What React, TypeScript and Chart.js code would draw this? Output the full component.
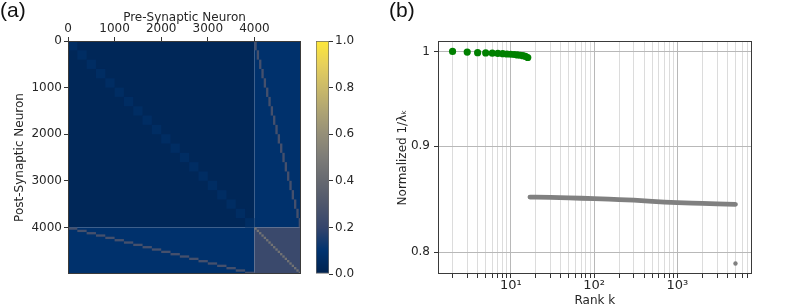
import React, { useEffect, useRef } from "react";
import { Chart, registerables } from "chart.js";
Chart.register(...registerables);

// ---------------- Panel (a): connectivity matrix ----------------
const N_EXC = 4000;
const N_INH = 1000;
const N_GROUPS = 20;
const EXC_GROUP = 200;
const INH_GROUP = 50;
const matrixTicks = [0, 1000, 2000, 3000, 4000];
// normalised weight levels of the matrix regions
const EE_BACKGROUND = 0.03;
const EE_GROUP = 0.065;
const EI_BACKGROUND = 0.09;
const EI_PATH = 0.26;
const II_BACKGROUND = 0.22;
const II_DIAGONAL = 0.45;

const colorbarTicks = [0, 0.2, 0.4, 0.6, 0.8, 1.0];
// cividis colormap samples at 0, 0.1, ..., 1.0
const cividisStops = [
  [0, 34, 78], [0, 51, 111], [53, 69, 108], [79, 87, 108], [102, 105, 112],
  [125, 124, 120], [149, 143, 120], [175, 164, 115], [203, 186, 105], [231, 208, 91], [254, 232, 56],
];

// ---------------- Panel (b): normalised inverse eigenvalues ----------------
const greenRanks = [2, 3, 4, 5, 6, 7, 8, 9, 10, 11, 12, 13, 14, 15, 16];
const greenValues = [1.0, 0.9993, 0.9986, 0.9984, 0.9981, 0.9978, 0.9975, 0.9972, 0.9969, 0.9966, 0.9962, 0.9958, 0.9953, 0.9946, 0.9933];
const grayRanks = [17, 20, 30, 50, 70, 100, 150, 200, 300, 500, 700, 1000, 1500, 2000, 3000, 4999];
const grayValues = [0.8505, 0.8504, 0.8502, 0.8498, 0.8494, 0.849, 0.8486, 0.8482, 0.8476, 0.8465, 0.8458, 0.8452, 0.8448, 0.8445, 0.8441, 0.8437];
const outlierRanks = [5000];
const outlierValues = [0.79];
const rankTicks = [2, 3, 4, 5, 6, 7, 8, 9, 10, 20, 30, 40, 50, 60, 70, 80, 90, 100, 200, 300, 400, 500, 600, 700, 800, 900, 1000, 2000, 3000, 4000, 5000, 6000, 7000];
const rankMajor = [10, 100, 1000];
const rankLabels: Record<number, string> = { 10: "10\u00B9", 100: "10\u00B2", 1000: "10\u00B3" };
const valueTicks = [0.8, 0.9, 1];

const FONT = { family: "'DejaVu Sans'", size: 12 };
Chart.defaults.font.family = "'DejaVu Sans'";
Chart.defaults.color = "#262626";

function cividis(v: number): string {
  const t = Math.max(0, Math.min(1, v)) * 10;
  const i = Math.min(9, Math.floor(t));
  const f = t - i;
  const a = cividisStops[i], b = cividisStops[i + 1];
  const c = a.map((x, k) => Math.round(x + (b[k] - x) * f));
  return `rgb(${c[0]},${c[1]},${c[2]})`;
}

type Cell = { x0: number; x1: number; y0: number; y1: number; v: number };
function buildCells(): Cell[] {
  const total = N_EXC + N_INH;
  const cells: Cell[] = [];
  cells.push({ x0: 0, x1: N_EXC, y0: 0, y1: N_EXC, v: EE_BACKGROUND });
  cells.push({ x0: N_EXC, x1: total, y0: 0, y1: N_EXC, v: EI_BACKGROUND });
  cells.push({ x0: 0, x1: N_EXC, y0: N_EXC, y1: total, v: EI_BACKGROUND });
  cells.push({ x0: N_EXC, x1: total, y0: N_EXC, y1: total, v: II_BACKGROUND });
  for (let g = 0; g < N_GROUPS; g++) {
    const e0 = g * EXC_GROUP, e1 = e0 + EXC_GROUP;
    const i0 = N_EXC + g * INH_GROUP, i1 = i0 + INH_GROUP;
    cells.push({ x0: e0, x1: e1, y0: e0, y1: e1, v: EE_GROUP });
    cells.push({ x0: i0, x1: i1, y0: e0, y1: e1, v: EI_PATH });
    cells.push({ x0: e0, x1: e1, y0: i0, y1: i1, v: EI_PATH });
    cells.push({ x0: i0, x1: i1, y0: i0, y1: i1, v: II_DIAGONAL });
  }
  return cells;
}

const framePlugin = {
  id: "frame",
  afterDatasetsDraw(chart: any, _a: any, opts: any) {
    const { ctx, chartArea: ca } = chart;
    ctx.save();
    ctx.strokeStyle = opts.color || "#333";
    ctx.lineWidth = 1;
    ctx.strokeRect(Math.round(ca.left) + 0.5, Math.round(ca.top) + 0.5, Math.round(ca.right - ca.left) - 1, Math.round(ca.bottom - ca.top) - 1);
    ctx.restore();
  },
};

const matrixPlugin = {
  id: "matrix",
  beforeDatasetsDraw(chart: any) {
    const { ctx, scales } = chart;
    const xs = scales.x, ys = scales.y;
    ctx.save();
    for (const c of buildCells()) {
      const px0 = xs.getPixelForValue(c.x0), px1 = xs.getPixelForValue(c.x1);
      const py0 = ys.getPixelForValue(c.y0), py1 = ys.getPixelForValue(c.y1);
      ctx.fillStyle = cividis(c.v);
      ctx.fillRect(Math.min(px0, px1), Math.min(py0, py1), Math.abs(px1 - px0), Math.abs(py1 - py0));
    }
    ctx.restore();
  },
};

function useChart(ref: React.RefObject<HTMLCanvasElement>, make: (c: HTMLCanvasElement) => Chart) {
  useEffect(() => {
    if (!ref.current) return;
    const ch = make(ref.current);
    return () => ch.destroy();
  }, []);
}

export default function App() {
  const matRef = useRef<HTMLCanvasElement>(null);
  const cbRef = useRef<HTMLCanvasElement>(null);
  const rkRef = useRef<HTMLCanvasElement>(null);

  useChart(matRef, (c) =>
    new Chart(c, {
      type: "scatter",
      data: { datasets: [] },
      plugins: [matrixPlugin, framePlugin],
      options: {
        responsive: false,
        animation: false,
        devicePixelRatio: 1,
        layout: { padding: { left: 0, top: 0, right: 4, bottom: 34 } },
        plugins: { legend: { display: false }, tooltip: { enabled: false }, frame: { color: "#3a3a3a" } } as any,
        scales: {
          x: {
            type: "linear", position: "top", min: 0, max: N_EXC + N_INH,
            afterBuildTicks: (s: any) => { s.ticks = matrixTicks.map((v) => ({ value: v })); },
            afterFit: (s: any) => { s.height = 41; },
            ticks: { font: FONT, padding: 1, maxRotation: 0, autoSkip: false, callback: (v: any) => String(v) },
            grid: { drawOnChartArea: false, tickLength: 4, color: "#333" },
            border: { display: false },
            title: { display: true, text: "Pre-Synaptic Neuron", font: FONT, padding: { top: 10.5, bottom: 0 } },
          },
          y: {
            type: "linear", reverse: true, min: 0, max: N_EXC + N_INH,
            afterBuildTicks: (s: any) => { s.ticks = matrixTicks.map((v) => ({ value: v })); },
            afterFit: (s: any) => { s.width = 68; },
            ticks: { font: FONT, padding: 2, autoSkip: false, callback: (v: any) => String(v) },
            grid: { drawOnChartArea: false, tickLength: 4, color: "#333" },
            border: { display: false },
            title: { display: true, text: "Post-Synaptic Neuron", font: FONT, padding: { top: 12.8, bottom: 0 } },
          },
        },
      } as any,
    })
  );

  useChart(cbRef, (c) =>
    new Chart(c, {
      type: "bar",
      data: {
        labels: [""],
        datasets: [{
          data: [[0, 1]] as any,
          backgroundColor: (ctx: any) => {
            const ch = ctx.chart;
            if (!ch.chartArea) return cividis(0.5);
            const y = ch.scales.y;
            const g = ch.ctx.createLinearGradient(0, y.getPixelForValue(0), 0, y.getPixelForValue(1));
            cividisStops.forEach((_s, i) => g.addColorStop(i / 10, cividis(i / 10)));
            return g;
          },
          borderColor: "#6a6a6a",
          borderWidth: 1,
          borderSkipped: false,
          barPercentage: 1,
          categoryPercentage: 1,
        }],
      },
      options: {
        responsive: false,
        animation: false,
        devicePixelRatio: 1,
        layout: { padding: { left: 11, top: 41, right: 0, bottom: 34 } },
        plugins: { legend: { display: false }, tooltip: { enabled: false } },
        scales: {
          x: { display: false },
          y: {
            position: "right", min: 0, max: 1,
            afterBuildTicks: (s: any) => { s.ticks = colorbarTicks.map((v) => ({ value: v })); },
            afterFit: (s: any) => { s.width = 51; },
            ticks: { font: FONT, padding: 2, callback: (v: any) => Number(v).toFixed(1) },
            grid: { drawOnChartArea: false, tickLength: 4, color: "#333" },
            border: { display: false },
          },
        },
      } as any,
    })
  );

  useChart(rkRef, (c) =>
    new Chart(c, {
      type: "scatter",
      data: {
        datasets: [
          {
            data: grayRanks.map((k, i) => ({ x: k, y: grayValues[i] })),
            showLine: true, borderColor: "#808080", borderWidth: 4.8, borderCapStyle: "round",
            pointRadius: 0, backgroundColor: "#808080",
          },
          {
            data: outlierRanks.map((k, i) => ({ x: k, y: outlierValues[i] })),
            pointRadius: 2.2, backgroundColor: "#808080", borderWidth: 0,
          },
          {
            data: greenRanks.map((k, i) => ({ x: k, y: greenValues[i] })),
            pointRadius: 3.6, backgroundColor: "#008000", borderWidth: 0,
          },
        ],
      },
      plugins: [framePlugin],
      options: {
        responsive: false,
        animation: false,
        devicePixelRatio: 1,
        layout: { padding: { left: 0, top: 41, right: 41.3, bottom: 0 } },
        plugins: { legend: { display: false }, tooltip: { enabled: false }, frame: { color: "#3a3a3a" } } as any,
        scales: {
          x: {
            type: "logarithmic", min: 1.337, max: 7830,
            afterBuildTicks: (s: any) => { s.ticks = rankTicks.map((v) => ({ value: v, major: rankMajor.includes(v) })); },
            afterFit: (s: any) => { s.height = 34; },
            ticks: { font: { family: "'DejaVu Sans'", size: 13 }, padding: 0, autoSkip: false, maxRotation: 0, callback: (v: any) => rankLabels[Number(v)] || "" },
            grid: {
              color: (ctx: any) => (ctx.tick && rankMajor.includes(ctx.tick.value) ? "#b8b8b8" : "#dcdcdc"),
              tickColor: "#333", tickLength: 4,
            },
            border: { display: false },
            title: { display: true, text: "Rank k", font: FONT, padding: { top: 0, bottom: 0 } },
          },
          y: {
            type: "logarithmic", min: 0.7808, max: 1.0117,
            afterBuildTicks: (s: any) => { s.ticks = valueTicks.map((v) => ({ value: v })); },
            afterFit: (s: any) => { s.width = 53; },
            ticks: { font: FONT, padding: 4, autoSkip: false, callback: (v: any) => String(Number(v)) },
            grid: { color: "#b8b8b8", tickColor: "#333", tickLength: 4 },
            border: { display: false },
            title: { display: true, text: "Normalized 1/\u03BB\u2096", font: FONT, padding: { top: 10.8, bottom: 0 } },
          },
        },
      } as any,
    })
  );

  const panelLabel: React.CSSProperties = {
    position: "absolute", top: -2, fontFamily: "'Liberation Sans', Arial, sans-serif", fontSize: 21, lineHeight: "24px", color: "#111",
  };

  return (
    <div style={{ position: "absolute", left: 0, top: 0, width: 793, height: 308, background: "#fff", overflow: "hidden" }}>
      <canvas ref={matRef} width={305} height={308} style={{ position: "absolute", left: 0, top: 0, width: 305, height: 308 }} />
      <canvas ref={cbRef} width={75} height={308} style={{ position: "absolute", left: 305, top: 0, width: 75, height: 308 }} />
      <canvas ref={rkRef} width={408} height={308} style={{ position: "absolute", left: 385, top: 0, width: 408, height: 308 }} />
      <div style={{ ...panelLabel, left: 0 }}>(a)</div>
      <div style={{ ...panelLabel, left: 389 }}>(b)</div>
    </div>
  );
}
